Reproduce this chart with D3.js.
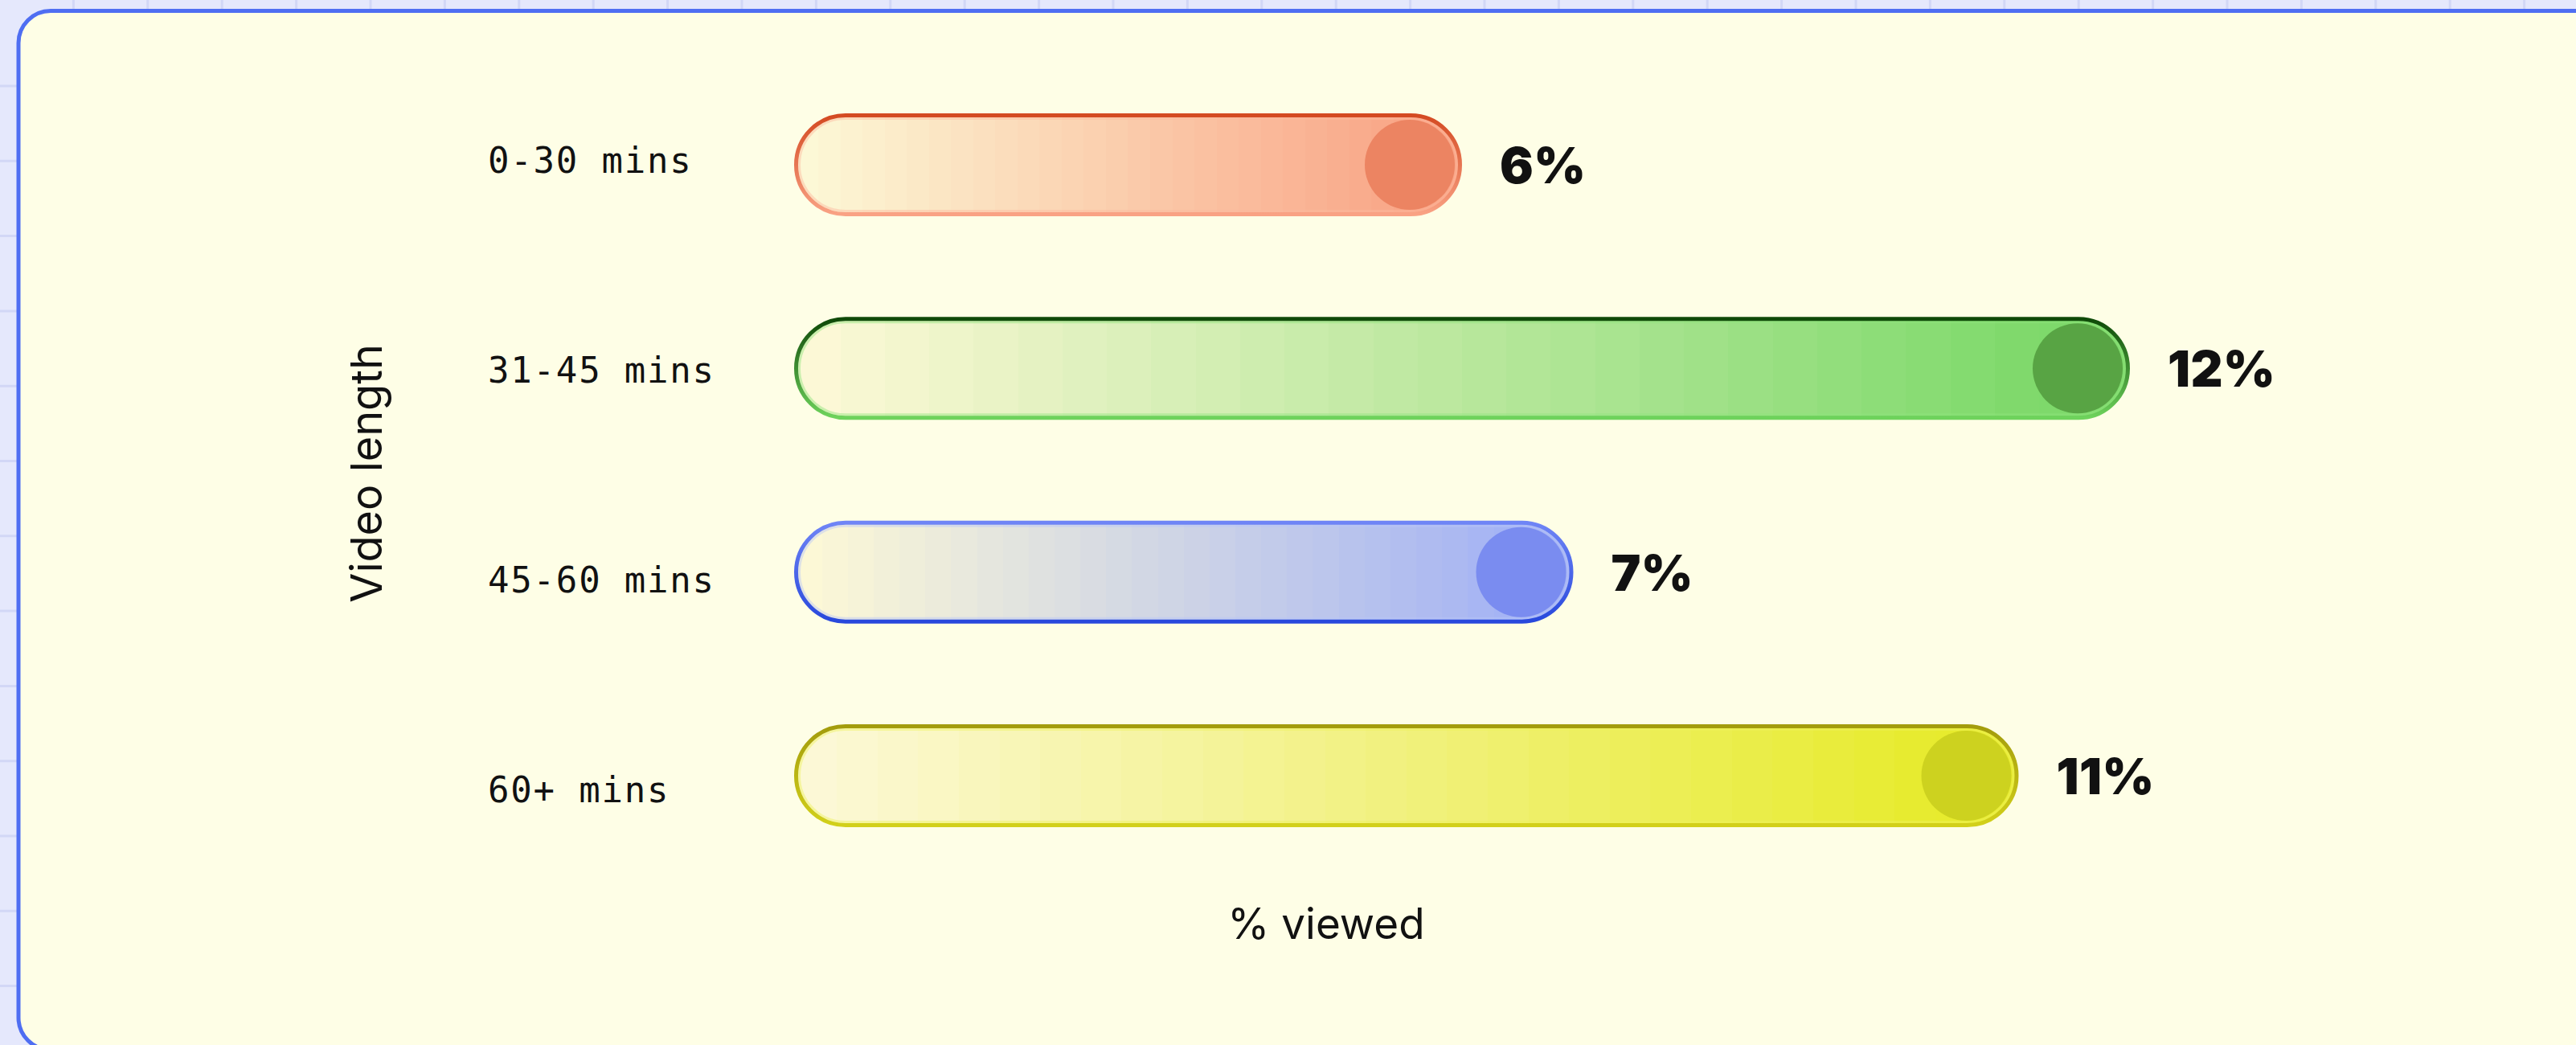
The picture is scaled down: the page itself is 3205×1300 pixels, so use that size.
<!DOCTYPE html>
<html>
<head>
<meta charset="utf-8">
<script src="https://cdn.jsdelivr.net/npm/d3@7"></script>
<style>
  html, body { margin: 0; padding: 0; background: #e5e8fc; }
  svg { display: block; }
</style>
</head>
<body>
<svg id="chart" width="3205" height="1300"></svg>
<script>
// Share of videos viewed, by video length
const categories = ["0-30 mins", "31-45 mins", "45-60 mins", "60+ mins"];
const viewedPct = [6, 12, 7, 11];
const valueLabels = ["6%", "12%", "7%", "11%"];
const xDomain = [0, 12];

// Per-bar palette: gradient end, end-cap circle, stroke top/bottom, inner ring
const fillEnd   = ["#f9a586", "#7ed96b", "#a4b3f4", "#e7eb2e"];
const capFill   = ["#ec8462", "#58a444", "#7a8cf0", "#cdd21f"];
const strokeTop = ["#d44a22", "#0f4a08", "#6f85f6", "#a39c0c"];
const strokeBot = ["#f9a284", "#6ed35c", "#2848dc", "#d2d01a"];
const innerRing = ["#fcb99e", "#8fe47c", "#b9c5f9", "#eef15a"];
const fillStart = "#fcf8d6";

const W = 3205, H = 1300;
const svg = d3.select("#chart");
const defs = svg.append("defs");

// Page backdrop with grid
svg.append("rect").attr("width", W).attr("height", H).attr("fill", "#e5e8fc");
const grid = svg.append("g").attr("stroke", "#d2d7f6").attr("stroke-width", 3);
grid.selectAll("line.v").data(d3.range(1, 36)).join("line")
  .attr("x1", k => 92.4 * k - 1).attr("x2", k => 92.4 * k - 1)
  .attr("y1", 0).attr("y2", H);
grid.selectAll("line.h").data(d3.range(1, 15)).join("line")
  .attr("y1", k => 13.7 + 93.3 * k).attr("y2", k => 13.7 + 93.3 * k)
  .attr("x1", 0).attr("x2", W);

// Card
svg.append("rect")
  .attr("x", 23).attr("y", 13.5)
  .attr("width", W + 100).attr("height", 1292.5)
  .attr("rx", 40).attr("ry", 40)
  .attr("fill", "#fefee6")
  .attr("stroke", "#4f6ef2").attr("stroke-width", 5);

// Scales
const x = d3.scaleLinear().domain(xDomain).range([988, 2650]);
const yBar = d3.scalePoint().domain(categories).range([205, 965]);
const yLabel = d3.scalePoint().domain(categories).range([198, 981]);
const barH = 128, sw = 5;

// Gradients: softly stepped horizontal fill, vertical outline
categories.forEach((c, i) => {
  const steps = 30;
  const interp = d3.interpolateRgb(fillStart, fillEnd[i]);
  const g = defs.append("linearGradient").attr("id", "fill" + i)
    .attr("x1", 0).attr("x2", 1).attr("y1", 0).attr("y2", 0);
  d3.range(steps).forEach(s => {
    const col = interp(Math.min(1, s / (steps - 1) * 1.06));
    g.append("stop").attr("offset", s / steps).attr("stop-color", col);
    g.append("stop").attr("offset", (s + 1) / steps).attr("stop-color", col);
  });
  const sg = defs.append("linearGradient").attr("id", "stroke" + i)
    .attr("x1", 0).attr("x2", 0).attr("y1", 0).attr("y2", 1);
  sg.append("stop").attr("offset", 0).attr("stop-color", strokeTop[i]);
  sg.append("stop").attr("offset", 1).attr("stop-color", strokeBot[i]);
});

const rows = categories.map((c, i) => ({ c, v: viewedPct[i], label: valueLabels[i], i }));

const bars = svg.append("g").selectAll("g.bar").data(rows).join("g").attr("class", "bar");

// Pill body
bars.append("rect")
  .attr("x", x(0) + sw / 2)
  .attr("y", d => yBar(d.c) - barH / 2 + sw / 2)
  .attr("width", d => x(d.v) - x(0) - sw)
  .attr("height", barH - sw)
  .attr("rx", (barH - sw) / 2)
  .attr("fill", d => `url(#fill${d.i})`);

// Inner highlight ring
bars.append("rect")
  .attr("x", x(0) + sw + 1.5)
  .attr("y", d => yBar(d.c) - barH / 2 + sw + 1.5)
  .attr("width", d => x(d.v) - x(0) - 2 * sw - 3)
  .attr("height", barH - 2 * sw - 3)
  .attr("rx", (barH - 2 * sw - 3) / 2)
  .attr("fill", "none")
  .attr("stroke", d => innerRing[d.i])
  .attr("stroke-opacity", 0.45)
  .attr("stroke-width", 3);

// End-cap circle
bars.append("circle")
  .attr("cx", d => x(d.v) - 65)
  .attr("cy", d => yBar(d.c))
  .attr("r", 56)
  .attr("fill", d => capFill[d.i]);

// Outline
bars.append("rect")
  .attr("x", x(0) + sw / 2)
  .attr("y", d => yBar(d.c) - barH / 2 + sw / 2)
  .attr("width", d => x(d.v) - x(0) - sw)
  .attr("height", barH - sw)
  .attr("rx", (barH - sw) / 2)
  .attr("fill", "none")
  .attr("stroke", d => `url(#stroke${d.i})`)
  .attr("stroke-width", sw);

// Value labels
bars.append("text")
  .attr("x", d => x(d.v) + 47)
  .attr("y", d => yBar(d.c) + 23)
  .attr("font-family", "Inter, 'Noto Sans', sans-serif")
  .attr("font-weight", 900)
  .attr("font-size", 62)
  .attr("letter-spacing", 0.5)
  .attr("fill", "#111111")
  .text(d => d.label);

// Category axis
const yAxis = svg.append("g")
  .attr("transform", "translate(607,0)")
  .call(d3.axisRight(yLabel).tickSize(0).tickPadding(0));
yAxis.select(".domain").remove();
yAxis.selectAll("text")
  .attr("dy", 16)
  .attr("font-family", "'DejaVu Sans Mono', 'Liberation Mono', monospace")
  .attr("font-size", 44)
  .attr("letter-spacing", 1.8)
  .attr("fill", "#111111");

// Axis titles
svg.append("text")
  .attr("transform", "translate(475,589) rotate(-90)")
  .attr("text-anchor", "middle")
  .attr("font-family", "Inter, 'Noto Sans', sans-serif")
  .attr("font-size", 54)
  .attr("fill", "#111111")
  .text("Video length");

svg.append("text")
  .attr("x", 1650).attr("y", 1168)
  .attr("text-anchor", "middle")
  .attr("font-family", "Inter, 'Noto Sans', sans-serif")
  .attr("font-size", 53)
  .attr("fill", "#111111")
  .text("% viewed");
</script>
</body>
</html>
